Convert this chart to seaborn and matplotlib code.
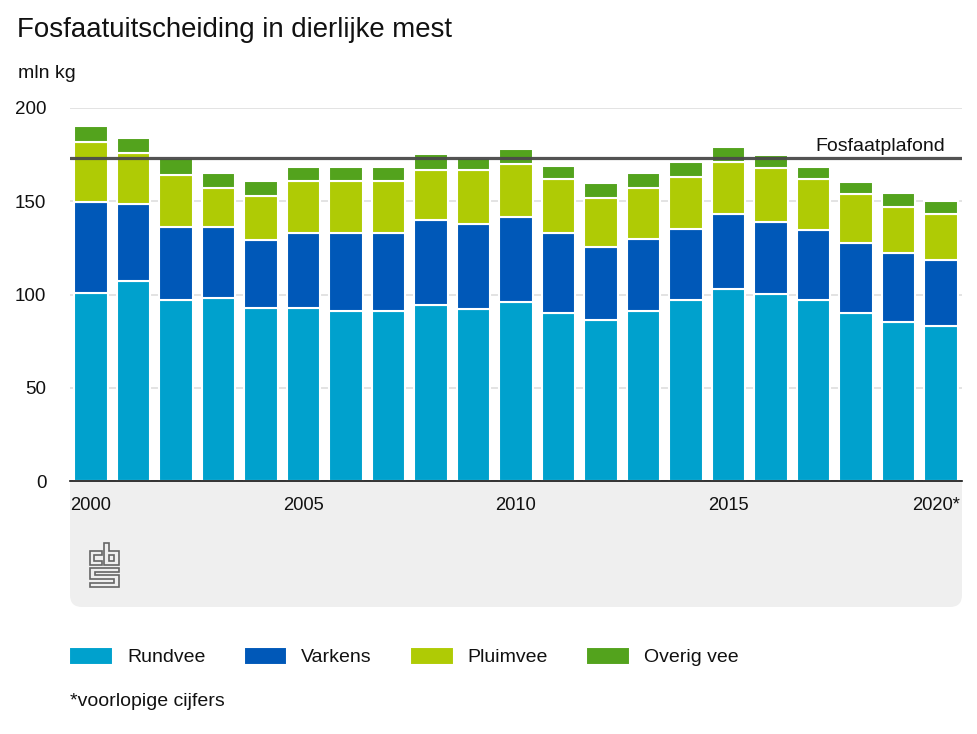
import matplotlib
matplotlib.use("Agg")
import matplotlib.pyplot as plt
import seaborn as sns
import numpy as np
import pandas as pd
from matplotlib.patches import FancyBboxPatch, Polygon
from matplotlib.transforms import Affine2D, ScaledTranslation

years = [str(y) for y in range(2000, 2020)] + ["2020*"]
rundvee = [101, 107, 97, 98, 93, 93, 91, 91, 94.5, 92, 96, 90, 86.5, 91, 97, 103, 100.5, 97, 90, 85.5, 83]
varkens = [48.5, 41.5, 39, 38, 36, 40, 42, 42, 45.5, 46, 45.5, 43, 39, 39, 38, 40, 38.5, 37.5, 37.5, 36.5, 35.5]
pluimvee = [32.5, 27.5, 28, 21, 24, 28, 28, 28, 27, 29, 28.5, 29, 26.5, 27, 28, 28, 29, 27.5, 26.5, 25, 24.5]
overig = [8.5, 8, 9, 8, 8, 7.5, 7.5, 7.5, 8.5, 6, 8, 7, 8, 8, 8, 8, 7, 6.5, 6.5, 7.5, 7]
series_names = ["Rundvee", "Varkens", "Pluimvee", "Overig vee"]
series_colors = ["#00A1CD", "#0058B8", "#AFCB05", "#53A31D"]
plafond = 173
plafond_label = "Fosfaatplafond"
title = "Fosfaatuitscheiding in dierlijke mest"
unit = "mln kg"
footnote = "*voorlopige cijfers"
yticks = [0, 50, 100, 150, 200]
xtick_labels = ["2000", "2005", "2010", "2015", "2020*"]

sns.set_theme(style="white")
plt.rcParams["font.family"] = ["Liberation Sans", "DejaVu Sans"]
W, H = 978, 734
fig = plt.figure(figsize=(W / 100, H / 100), dpi=100)
ax = fig.add_axes([70 / W, 1 - 481 / H, (962 - 70) / W, (481 - 108) / H])
ax.set_facecolor("white")
ax.set_zorder(1)

px = Affine2D().scale(1, -1).translate(0, H)

# grey panel under the axis
panel = FancyBboxPatch((70 + 12, 440 + 12), 892 - 24, 167 - 24,
                       boxstyle="round,pad=12,rounding_size=12",
                       transform=px, facecolor="#EFEFEF", edgecolor="none", zorder=-1)
fig.add_artist(panel)

df = pd.DataFrame({"jaar": years, "Rundvee": rundvee, "Varkens": varkens,
                   "Pluimvee": pluimvee, "Overig vee": overig})
bottom = np.zeros(len(df))
for name, color in zip(series_names, series_colors):
    sns.barplot(data=df, x="jaar", y=name, bottom=bottom, color=color, width=0.79,
                saturation=1, edgecolor="white", linewidth=1.5, label=name,
                legend=True, ax=ax, zorder=3)
    bottom = bottom + df[name].to_numpy()

ax.set_xlim(-0.494, 20.494)
ax.set_ylim(0, 200)
ax.set_xlabel("")
ax.set_ylabel("")
ax.set_yticks(yticks)
ax.set_xticks([years.index(t) for t in xtick_labels])
ax.set_xticklabels(xtick_labels)
ax.tick_params(axis="x", length=0, pad=11.5, labelsize=13.2, labelcolor="#111111")
ax.tick_params(axis="y", length=0, pad=17, labelsize=13.5, labelcolor="#111111")
last = ax.xaxis.get_majorticklabels()[-1]
last.set_transform(last.get_transform() + ScaledTranslation(-4.5 / 100, 0, fig.dpi_scale_trans))

ax.grid(axis="y", color="#E0E0E0", linewidth=1.3, zorder=0)
ax.grid(axis="x", visible=False)
ax.set_axisbelow(True)
for side in ["top", "left", "right"]:
    ax.spines[side].set_visible(False)
ax.spines["bottom"].set_color("#111111")
ax.spines["bottom"].set_linewidth(1.2)
ax.spines["bottom"].set_zorder(6)

ax.axhline(plafond, color="#4A4A4A", linewidth=2.3, zorder=5, alpha=0.95)
ax.annotate(plafond_label, xy=(1, plafond), xycoords=("axes fraction", "data"),
            xytext=(-17 / 100 * 72, 2.5), textcoords="offset points", ha="right", va="bottom",
            fontsize=14, color="#111111", zorder=6)

fig.text(17 / W, 1 - 30 / H, title, fontsize=19.9, color="#111111", va="center", ha="left")
fig.text(18 / W, 1 - 73.5 / H, unit, fontsize=14, color="#111111", va="center", ha="left")
fig.text(70 / W, 1 - 701.5 / H, footnote, fontsize=14, color="#111111", va="center", ha="left")

ax.legend(loc="upper left", bbox_to_anchor=(69.5 / W, 1 - 646.5 / H),
          bbox_transform=fig.transFigure, ncol=4, frameon=False, fontsize=14,
          handlelength=2.24, handleheight=1.1, handletextpad=0.72, columnspacing=1.97,
          borderpad=0, borderaxespad=0, labelcolor="#111111")

# cbs logo outline
logo_c = [(102, 551), (90, 551), (90, 565), (102, 565), (102, 561), (94, 561), (94, 555), (102, 555)]
logo_b = [(104, 543), (109, 543), (109, 551), (119, 551), (119, 565), (104, 565)]
logo_b_inner = [(109, 555), (114, 555), (114, 561), (109, 561)]
logo_s = [(90, 568), (119, 568), (119, 572), (95, 572), (95, 575), (119, 575), (119, 587),
          (90, 587), (90, 583), (114, 583), (114, 579), (90, 579)]
for shape in [logo_c, logo_b, logo_b_inner, logo_s]:
    fig.add_artist(Polygon(shape, closed=True, transform=px, fill=False,
                           edgecolor="#666666", linewidth=1.2, zorder=3))

fig.savefig("out.png", dpi=100)
